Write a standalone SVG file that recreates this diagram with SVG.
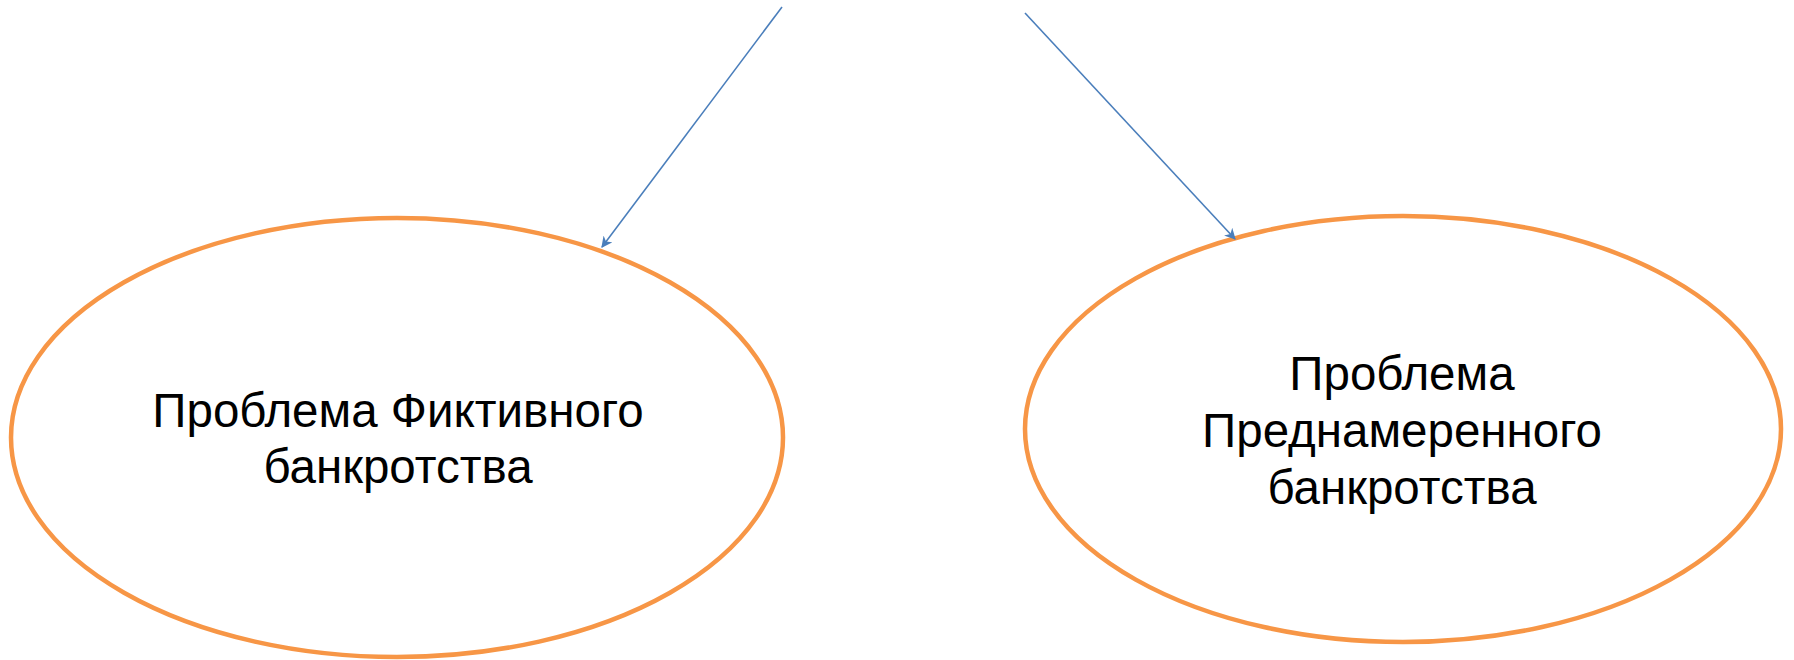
<svg xmlns="http://www.w3.org/2000/svg" width="1794" height="660" viewBox="0 0 1794 660">
<style>
.node ellipse{fill:#fff;stroke:#F79646;stroke-width:4.5}
.node text{font-family:"Liberation Sans",Arial,sans-serif;font-size:47.5px;fill:#000;text-anchor:middle}
.conn line{stroke:#4A7EBB;stroke-width:1.6;fill:none}
</style>
<defs>
<marker id="arr" viewBox="0 0 10 10" refX="9" refY="5" markerWidth="7" markerHeight="7" orient="auto" markerUnits="strokeWidth">
<path d="M0,0 L10,5 L0,10 L3,5 Z" fill="#4A7EBB"/>
</marker>
</defs>
<rect width="1794" height="660" fill="#fff"/>
<g id="node-fictive" class="node">
<ellipse cx="397" cy="437.5" rx="386" ry="219.5"/>
<text x="398" y="427">Проблема Фиктивного</text>
<text x="398" y="483">банкротства</text>
</g>
<g id="node-deliberate" class="node">
<ellipse cx="1403" cy="429" rx="378" ry="213"/>
<text x="1402" y="390">Проблема</text>
<text x="1402" y="447">Преднамеренного</text>
<text x="1402" y="504">банкротства</text>
</g>
<g id="connectors" class="conn">
<line x1="782" y1="7" x2="602" y2="247" marker-end="url(#arr)"/>
<line x1="1025" y1="13" x2="1235" y2="239" marker-end="url(#arr)"/>
</g>
</svg>
